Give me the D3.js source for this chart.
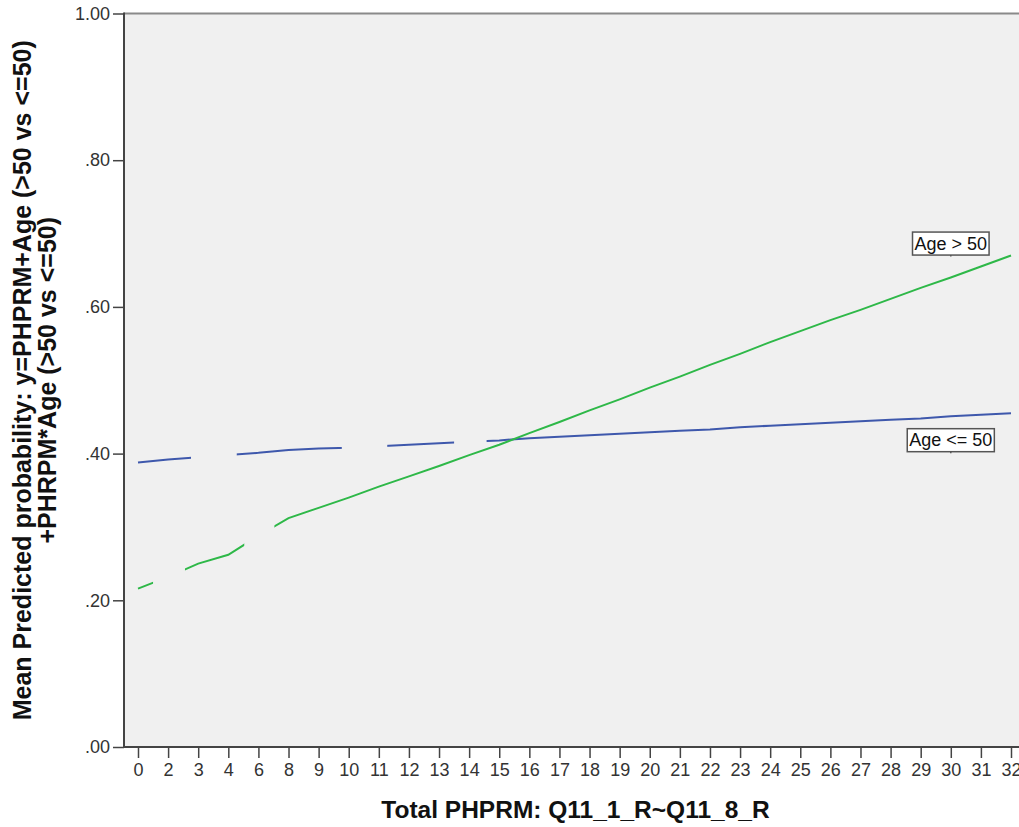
<!DOCTYPE html>
<html><head><meta charset="utf-8">
<script src="https://cdn.jsdelivr.net/npm/d3@7"></script>
<style>
body{margin:0;background:#fff;}
svg{display:block;font-family:"Liberation Sans",Arial,sans-serif;}
</style>
</head><body>
<svg id="chart" width="1019" height="827"></svg>
<script>
// ---- data ----
const categories = [0,2,3,4,6,8,9,10,11,12,13,14,15,16,17,18,19,20,21,22,23,24,25,26,27,28,29,30,31,32];
const ageLE50 = [0.388,0.392,0.395,0.398,0.401,0.405,0.407,0.408,0.410,0.412,0.414,0.416,0.418,0.421,0.423,0.425,0.427,0.429,0.431,0.433,0.436,0.438,0.440,0.442,0.444,0.446,0.448,0.451,0.453,0.455];
const ageGT50 = [0.216,0.232,0.250,0.262,0.288,0.312,0.326,0.340,0.355,0.369,0.383,0.398,0.412,0.428,0.443,0.459,0.474,0.490,0.505,0.521,0.536,0.552,0.567,0.582,0.596,0.611,0.626,0.640,0.655,0.670];
const yTicks = [0,0.2,0.4,0.6,0.8,1.0];
const seriesNames = ["Age <= 50","Age > 50"];
const xTitle = "Total PHPRM: Q11_1_R~Q11_8_R";
const yTitle = ["Mean Predicted probability: y=PHPRM+Age (>50 vs <=50)", "+PHRPM*Age (>50 vs <=50)"];

// ---- style ----
const colors = ["#3E58AC","#2EB848"];
// visible stretches of each line, in category-index units (line pattern)
const visibleSpans = [
  [[0,1.76],[3.28,6.77],[8.28,10.5],[11.58,29]],
  [[0,0.5],[1.56,3.53],[4.53,29]]
];
const labelOffsets = [24, -34]; // px below/above line at label category
const labelCategory = 30;

const svg = d3.select("#chart");
const plot = {left:124, top:13.5, bottom:747, right:1045};

const x = d3.scalePoint().domain(categories).range([138, 1011]);
const y = d3.scaleLinear().domain([0,1]).range([plot.bottom, plot.top]);
const xAt = t => x(categories[0]) + t * x.step();

// background
svg.append("rect").attr("x",plot.left).attr("y",plot.top)
  .attr("width",plot.right-plot.left).attr("height",plot.bottom-plot.top)
  .attr("fill","#f0f0f0");

// top frame line
svg.append("line").attr("x1",plot.left).attr("x2",plot.right)
  .attr("y1",plot.top).attr("y2",plot.top)
  .attr("stroke","#8a8a8a").attr("stroke-width",2);

// clip paths for line pattern
const defs = svg.append("defs");
visibleSpans.forEach((spans, si) => {
  const cp = defs.append("clipPath").attr("id","clip"+si);
  spans.forEach(([a,b]) => {
    const x0 = a === 0 ? xAt(a) - 4 : xAt(a);
    const x1 = b === categories.length-1 ? xAt(b) + 4 : xAt(b);
    cp.append("rect").attr("x",x0).attr("y",0).attr("width",x1-x0).attr("height",827);
  });
});

// lines
const line = d3.line().x((d,i)=>x(categories[i])).y(d=>y(d));
[ageLE50, ageGT50].forEach((vals, si) => {
  svg.append("path").datum(vals)
    .attr("d", line)
    .attr("fill","none")
    .attr("stroke", colors[si])
    .attr("stroke-width", 2)
    .attr("clip-path", `url(#clip${si})`);
});

// axes
const yAxis = d3.axisLeft(y).tickValues(yTicks)
  .tickFormat(d => d === 1 ? "1.00" : d3.format(".2f")(d).replace(/^0/,""))
  .tickSize(11).tickSizeOuter(0).tickPadding(3);
const gy = svg.append("g").attr("transform",`translate(${plot.left},0)`).call(yAxis);
gy.select(".domain").remove();
gy.selectAll(".tick line").attr("stroke","#444").attr("stroke-width",1.5);
gy.selectAll(".tick text").attr("font-size",18).attr("fill","#333")
  .attr("font-family","'Liberation Sans',Arial,sans-serif");

const xAxis = d3.axisBottom(x).tickSize(11).tickSizeOuter(0).tickPadding(5);
const gx = svg.append("g").attr("transform",`translate(0,${plot.bottom})`).call(xAxis);
gx.select(".domain").remove();
gx.selectAll(".tick line").attr("stroke","#444").attr("stroke-width",1.5);
gx.selectAll(".tick text").attr("font-size",18).attr("fill","#333")
  .attr("font-family","'Liberation Sans',Arial,sans-serif");

// axis lines
svg.append("line").attr("x1",plot.left).attr("x2",plot.left)
  .attr("y1",plot.top-1).attr("y2",plot.bottom)
  .attr("stroke","#444").attr("stroke-width",2);
svg.append("line").attr("x1",plot.left-1).attr("x2",plot.right)
  .attr("y1",plot.bottom).attr("y2",plot.bottom)
  .attr("stroke","#444").attr("stroke-width",2);

// series labels
const li = categories.indexOf(labelCategory);
[ageLE50, ageGT50].forEach((vals, si) => {
  const cx = x(labelCategory), cy = y(vals[li]) + labelOffsets[si];
  const g = svg.append("g");
  const t = g.append("text").attr("x",cx).attr("y",cy).attr("dy","0.35em")
    .attr("text-anchor","middle").attr("font-size",18).attr("fill","#111")
    .text(seriesNames[si]);
  const bb = t.node().getBBox();
  g.insert("rect","text").attr("x",bb.x-2).attr("y",cy-11.5)
    .attr("width",bb.width+4).attr("height",23)
    .attr("fill","#fff").attr("stroke","#555").attr("stroke-width",1.5);
  g.append("line").attr("x1",cx).attr("x2",cx).attr("y1",cy+11.5).attr("y2",cy+13)
    .attr("stroke","#555").attr("stroke-width",1.5);
});

// axis titles
svg.append("text").attr("x",(plot.left+1019)/2+4).attr("y",818)
  .attr("text-anchor","middle").attr("font-size",24.5).attr("font-weight","bold")
  .attr("fill","#111").text(xTitle);

const cyT = (plot.top+plot.bottom)/2;
[31, 56].forEach((bx, k) => {
  svg.append("text").attr("transform",`translate(${bx},${cyT}) rotate(-90)`)
    .attr("text-anchor","middle").attr("font-size",25).attr("font-weight","bold")
    .attr("fill","#111").text(yTitle[k]);
});
</script>
</body></html>
